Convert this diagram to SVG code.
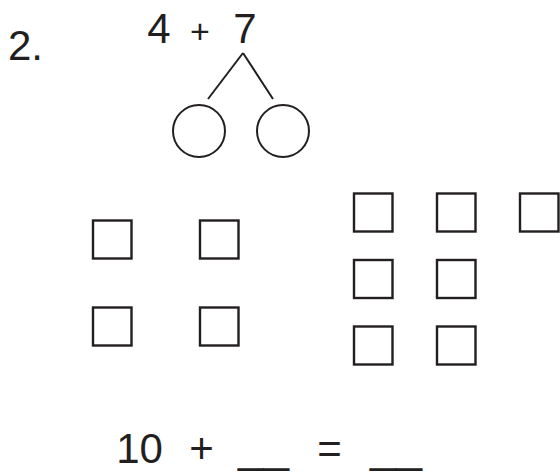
<svg xmlns="http://www.w3.org/2000/svg" width="560" height="473" viewBox="0 0 560 473">
<style>
text{font-family:"Liberation Sans",Arial,sans-serif;fill:#231f20;text-anchor:middle}
.big{font-size:42px}
.plus{font-size:34px}
.sq{fill:none;stroke:#231f20;stroke-width:2.4}
.ln{fill:none;stroke:#231f20;stroke-width:2}
</style>
<rect width="560" height="473" fill="#fff"/>
<g id="label"><text class="big" x="8" y="60" style="text-anchor:start">2.</text></g>
<g id="expr">
<text class="big" x="159" y="43">4</text>
<text class="plus" x="200" y="43">+</text>
<text class="big" x="245" y="43">7</text>
</g>
<g id="connectors">
<line class="ln" x1="243" y1="53" x2="208" y2="99"/>
<line class="ln" x1="243" y1="53" x2="273" y2="99"/>
</g>
<g id="circle-left"><circle class="ln" cx="199" cy="131" r="26"/></g>
<g id="circle-right"><circle class="ln" cx="283" cy="131" r="26"/></g>
<g id="squares-4">
<rect class="sq" x="93" y="220.5" width="38.5" height="38"/>
<rect class="sq" x="200" y="220.5" width="38.5" height="38"/>
<rect class="sq" x="93" y="307.5" width="38.5" height="38"/>
<rect class="sq" x="200" y="307.5" width="38.5" height="38"/>
</g>
<g id="squares-7">
<rect class="sq" x="354" y="193.5" width="38.5" height="38"/>
<rect class="sq" x="437" y="193.5" width="38.5" height="38"/>
<rect class="sq" x="520" y="193.5" width="38.5" height="38"/>
<rect class="sq" x="354" y="260" width="38.5" height="38"/>
<rect class="sq" x="437" y="260" width="38.5" height="38"/>
<rect class="sq" x="354" y="326.5" width="38.5" height="38"/>
<rect class="sq" x="437" y="326.5" width="38.5" height="38"/>
</g>
<g id="equation">
<text class="big" x="139.5" y="463">10</text>
<text class="big" x="201.5" y="463">+</text>
<text class="big" x="263.5" y="463" textLength="51" lengthAdjust="spacingAndGlyphs">__</text>
<text class="big" x="329.5" y="463">=</text>
<text class="big" x="396" y="463" textLength="52" lengthAdjust="spacingAndGlyphs">__</text>
</g>
</svg>
